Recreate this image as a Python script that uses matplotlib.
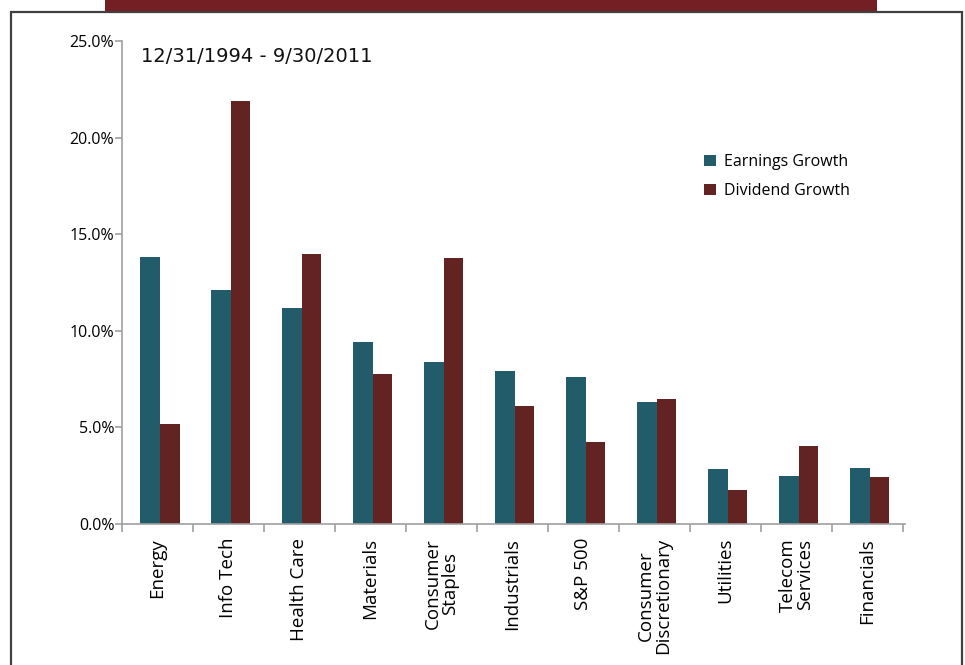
import matplotlib
matplotlib.use("Agg")
import matplotlib.pyplot as plt
import numpy as np
from matplotlib.patches import Rectangle

categories = ["Energy", "Info Tech", "Health Care", "Materials", "Consumer\nStaples",
              "Industrials", "S&P 500", "Consumer\nDiscretionary", "Utilities",
              "Telecom\nServices", "Financials"]
earnings = [13.8, 12.1, 11.2, 9.4, 8.4, 7.9, 7.6, 6.3, 2.85, 2.5, 2.9]
dividend = [5.2, 21.9, 14.0, 7.75, 13.75, 6.1, 4.25, 6.45, 1.75, 4.05, 2.45]
yticks = [0, 5, 10, 15, 20, 25]

plt.rcParams['font.family'] = ['Open Sans', 'DejaVu Sans']

fig = plt.figure(figsize=(9.65, 6.65), dpi=100)

# frame and banner
fig.patches.append(Rectangle((11/965, -0.05), (962-11)/965, 1.05 - 12/665 + 0.0,
                             transform=fig.transFigure, fill=False,
                             edgecolor="#404040", linewidth=1.6))
fig.patches.append(Rectangle((105/965, 1 - 11/665), (877-105)/965, 11/665 + 0.01,
                             transform=fig.transFigure, facecolor="#741F24",
                             edgecolor="none"))

ax = fig.add_axes([122/965, 1 - 524/665, (905-122)/965, (524-41)/665])
x = np.arange(len(categories))
w = 0.28
ax.bar(x - 0.11, earnings, width=w, color="#225B69", label="Earnings Growth")
ax.bar(x + 0.17, dividend, width=w, color="#622322", label="Dividend Growth")

ax.set_xlim(-0.5, len(categories) - 0.5 + 0.03)
ax.set_ylim(0, 25)
ax.set_yticks(yticks)
ax.set_yticklabels([f"{v:.1f}%" for v in yticks], fontsize=11.5)
ax.set_xticks(x)
ax.set_xticklabels(categories, rotation=90, fontsize=13.5, ha="center", va="top",
                   multialignment="center", linespacing=1.0)
ax.tick_params(axis="x", length=0, pad=10)
ax.set_xticks(np.arange(-0.5, len(categories)), minor=True)
ax.tick_params(axis="x", which="minor", length=6, color="#a0a0a0", width=1.2)
ax.tick_params(axis="y", length=5, color="#a0a0a0", width=1.2, pad=0.5)
for s in ["top", "right"]:
    ax.spines[s].set_visible(False)
for s in ["left", "bottom"]:
    ax.spines[s].set_color("#a0a0a0")
    ax.spines[s].set_linewidth(1.2)

ax.text(141/965, 1 - 57/665, "12/31/1994 - 9/30/2011", transform=fig.transFigure,
        fontsize=14, va="center", ha="left", color="#111111", family="DejaVu Sans")

leg = ax.legend(loc="upper left", bbox_to_anchor=((698-122)/783, (524-148)/483),
                frameon=False, fontsize=11.5, handlelength=0.7, handleheight=0.7,
                labelspacing=0.8, handletextpad=0.5, borderaxespad=0)

fig.savefig("out.png", dpi=100)
